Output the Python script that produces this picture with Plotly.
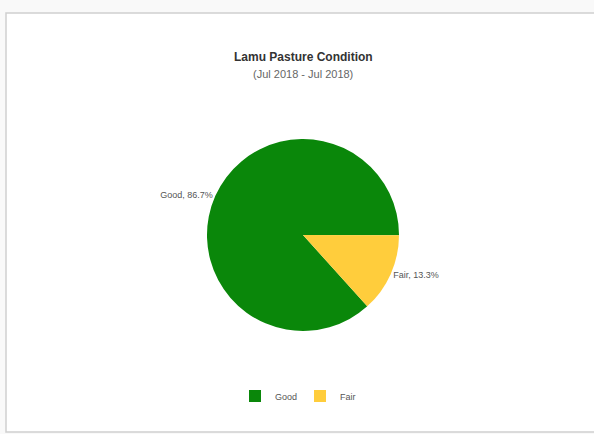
import plotly.graph_objects as go

labels = ["Good", "Fair"]
values = [86.7, 13.3]
colors = ["#0a870a", "#ffcd3c"]
title = "Lamu Pasture Condition"
subtitle = "(Jul 2018 - Jul 2018)"

W, H = 594, 434
FONT = "Liberation Sans Narrow, Arial Narrow, Liberation Sans, sans-serif"

cx, cy, r = 303, 235, 96

fig = go.Figure(go.Pie(
    labels=labels, values=values, sort=False, direction="clockwise",
    rotation=138,
    marker=dict(colors=colors, line=dict(color="white", width=0)),
    texttemplate="%{label}, %{percent:.1%}",
    textposition="outside",
    outsidetextfont=dict(family=FONT, size=9, color="#555555"),
    domain=dict(x=[(cx - r) / W, (cx + r) / W], y=[(H - cy - r) / H, (H - cy + r) / H]),
    hoverinfo="label+percent",
))

fig.update_layout(
    width=W, height=H,
    margin=dict(l=0, r=0, t=0, b=0),
    paper_bgcolor="#f9f9f9",
    showlegend=True,
    legend=dict(orientation="h", x=300 / W, xanchor="center", y=(H - 396) / H, yanchor="middle",
                bgcolor="rgba(0,0,0,0)", entrywidth=20,
                font=dict(family=FONT, size=9, color="#555555"), itemwidth=30),
    shapes=[dict(type="rect", xref="paper", yref="paper",
                 x0=6 / W, x1=1.05, y0=(H - 432) / H, y1=(H - 13) / H,
                 fillcolor="white", line=dict(color="#d0d0d0", width=1.5), layer="below")],
    annotations=[
        dict(text="<b>" + title + "</b>", x=303 / W, y=(H - 57) / H, xref="paper", yref="paper",
             yanchor="middle", showarrow=False, font=dict(family=FONT, size=12, color="#333333")),
        dict(text=subtitle, x=303 / W, y=(H - 74) / H, xref="paper", yref="paper",
             yanchor="middle", showarrow=False, font=dict(family=FONT, size=11, color="#666666")),
    ],
)

fig.write_html("out.html", config={"displayModeBar": False},
               post_script="document.body.style.margin='0';")
